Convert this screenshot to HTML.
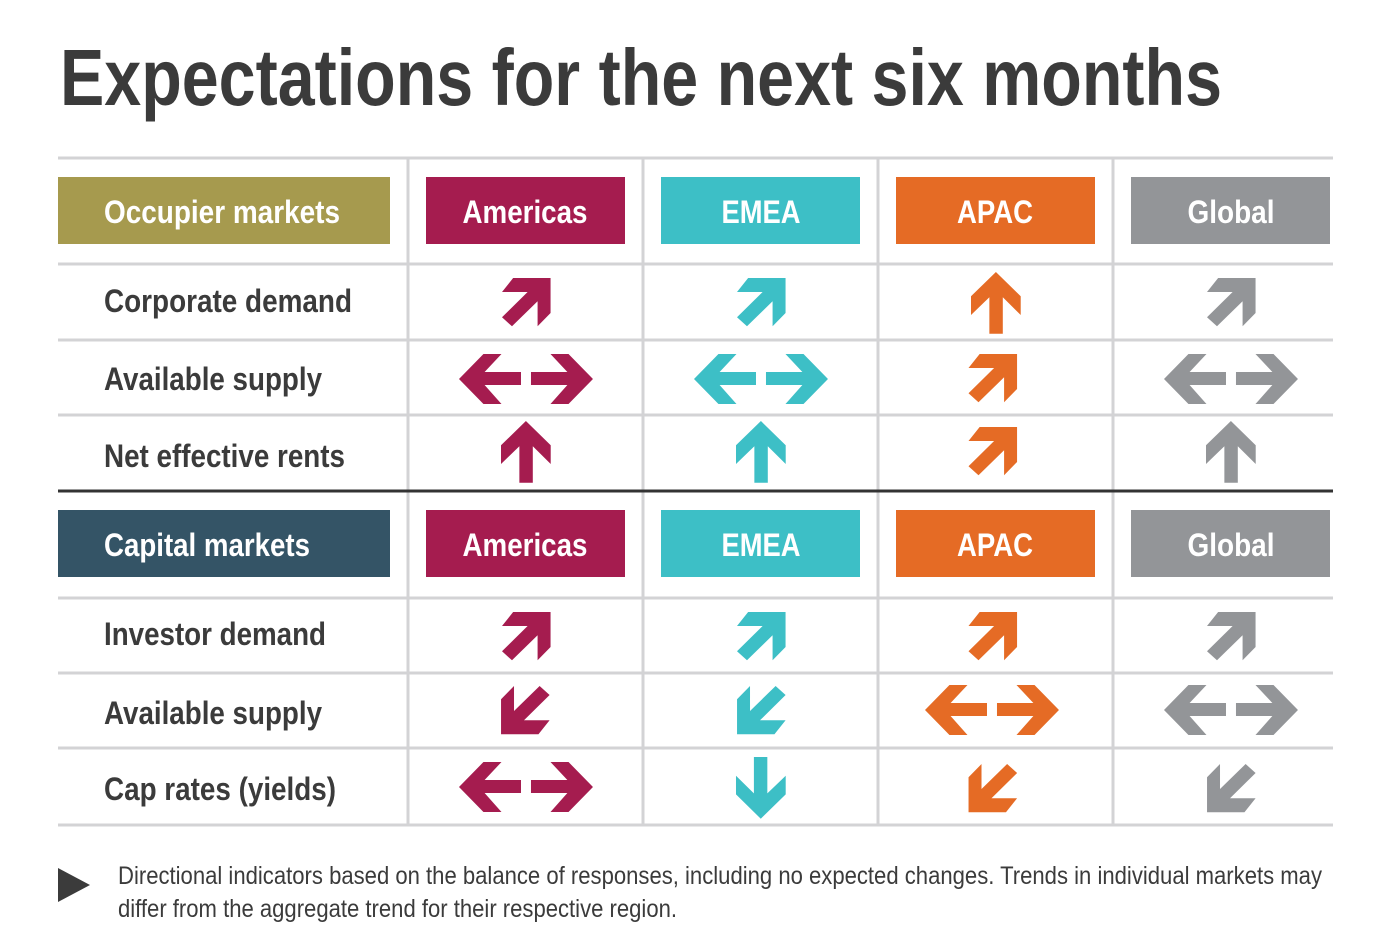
<!DOCTYPE html>
<html><head><meta charset="utf-8"><style>html,body{margin:0;padding:0;background:#fff}</style></head>
<body>
<svg width="1400" height="931" viewBox="0 0 1400 931" xmlns="http://www.w3.org/2000/svg" font-family="'Liberation Sans Narrow','Liberation Sans',sans-serif">
<defs>
<g id="ur"><polygon transform="scale(1.148,1)" points="0,14 9.7,0 42.3,0 42.3,35 31,48.3 31,23.3 8.7,48.3 0,39.3 22.3,14"/></g>
<g id="up"><polygon transform="scale(1.148,1)" points="21.7,0 43.3,24.3 43.3,43 27.7,25.3 27.7,61.7 16,61.7 16,25.3 0,43 0,24.3"/></g>
<g id="lr"><g transform="scale(1.148,1)"><polygon points="0,25 21.3,0 37,0 22.3,18 54,18 54,31 22.3,31 37,50 21.3,50"/><polygon transform="translate(116.7,0) scale(-1,1)" points="0,25 21.3,0 37,0 22.3,18 54,18 54,31 22.3,31 37,50 21.3,50"/></g></g>
</defs>
<text x="60" y="105" font-size="80" font-weight="bold" fill="#3b3b3b" textLength="1162" lengthAdjust="spacingAndGlyphs">Expectations for the next six months</text>
<g stroke="#d3d3d5" stroke-width="3">
<line x1="58" y1="158" x2="1333" y2="158"/><line x1="58" y1="264" x2="1333" y2="264"/><line x1="58" y1="340" x2="1333" y2="340"/><line x1="58" y1="415" x2="1333" y2="415"/>
<line x1="58" y1="598" x2="1333" y2="598"/><line x1="58" y1="673" x2="1333" y2="673"/><line x1="58" y1="748" x2="1333" y2="748"/><line x1="58" y1="825" x2="1333" y2="825"/>
<line x1="408" y1="158" x2="408" y2="825"/><line x1="643" y1="158" x2="643" y2="825"/><line x1="878" y1="158" x2="878" y2="825"/><line x1="1113" y1="158" x2="1113" y2="825"/>
</g>
<line x1="58" y1="491" x2="1333" y2="491" stroke="#333" stroke-width="3"/>
<g font-size="32" font-weight="bold" fill="#fff" text-anchor="middle">
<rect x="58" y="177" width="332" height="67" fill="#a69a4e"/><text x="222" y="223" textLength="236" lengthAdjust="spacingAndGlyphs">Occupier markets</text>
<rect x="426" y="177" width="199" height="67" fill="#a51c4f"/><text x="525" y="223" textLength="125" lengthAdjust="spacingAndGlyphs">Americas</text>
<rect x="661" y="177" width="199" height="67" fill="#3dbfc6"/><text x="761" y="223" textLength="79" lengthAdjust="spacingAndGlyphs">EMEA</text>
<rect x="896" y="177" width="199" height="67" fill="#e56b25"/><text x="995" y="223" textLength="76" lengthAdjust="spacingAndGlyphs">APAC</text>
<rect x="1131" y="177" width="199" height="67" fill="#939598"/><text x="1231" y="223" textLength="87" lengthAdjust="spacingAndGlyphs">Global</text>
<rect x="58" y="510" width="332" height="67" fill="#345466"/><text x="207" y="556" textLength="206" lengthAdjust="spacingAndGlyphs">Capital markets</text>
<rect x="426" y="510" width="199" height="67" fill="#a51c4f"/><text x="525" y="556" textLength="125" lengthAdjust="spacingAndGlyphs">Americas</text>
<rect x="661" y="510" width="199" height="67" fill="#3dbfc6"/><text x="761" y="556" textLength="79" lengthAdjust="spacingAndGlyphs">EMEA</text>
<rect x="896" y="510" width="199" height="67" fill="#e56b25"/><text x="995" y="556" textLength="76" lengthAdjust="spacingAndGlyphs">APAC</text>
<rect x="1131" y="510" width="199" height="67" fill="#939598"/><text x="1231" y="556" textLength="87" lengthAdjust="spacingAndGlyphs">Global</text>
</g>
<g font-size="32" font-weight="bold" fill="#3b3b3b">
<text x="104" y="312" textLength="248" lengthAdjust="spacingAndGlyphs">Corporate demand</text>
<text x="104" y="390" textLength="218" lengthAdjust="spacingAndGlyphs">Available supply</text>
<text x="104" y="467" textLength="241" lengthAdjust="spacingAndGlyphs">Net effective rents</text>
<text x="104" y="645" textLength="222" lengthAdjust="spacingAndGlyphs">Investor demand</text>
<text x="104" y="724" textLength="218" lengthAdjust="spacingAndGlyphs">Available supply</text>
<text x="104" y="800" textLength="232" lengthAdjust="spacingAndGlyphs">Cap rates (yields)</text>
</g>
<!-- row 1 -->
<use href="#ur" x="502" y="278" fill="#a51c4f"/>
<use href="#ur" x="737" y="278" fill="#3dbfc6"/>
<use href="#up" x="971" y="272" fill="#e56b25"/>
<use href="#ur" x="1207" y="278" fill="#939598"/>
<!-- row 2 -->
<use href="#lr" x="459" y="354" fill="#a51c4f"/>
<use href="#lr" x="694" y="354" fill="#3dbfc6"/>
<use href="#ur" x="968.5" y="354" fill="#e56b25"/>
<use href="#lr" x="1164" y="354" fill="#939598"/>
<!-- row 3 -->
<use href="#up" x="501" y="421" fill="#a51c4f"/>
<use href="#up" x="736" y="421" fill="#3dbfc6"/>
<use href="#ur" x="968.5" y="427" fill="#e56b25"/>
<use href="#up" x="1206" y="421" fill="#939598"/>
<!-- row 4 -->
<use href="#ur" x="502" y="612" fill="#a51c4f"/>
<use href="#ur" x="737" y="612" fill="#3dbfc6"/>
<use href="#ur" x="968.5" y="612" fill="#e56b25"/>
<use href="#ur" x="1207" y="612" fill="#939598"/>
<!-- row 5 -->
<g transform="translate(549.6,734.3) rotate(180)"><use href="#ur" fill="#a51c4f"/></g>
<g transform="translate(785.6,734.3) rotate(180)"><use href="#ur" fill="#3dbfc6"/></g>
<use href="#lr" x="925" y="685" fill="#e56b25"/>
<use href="#lr" x="1164" y="685" fill="#939598"/>
<!-- row 6 -->
<use href="#lr" x="459" y="762" fill="#a51c4f"/>
<g transform="translate(785.7,818.7) rotate(180)"><use href="#up" fill="#3dbfc6"/></g>
<g transform="translate(1017.1,812.3) rotate(180)"><use href="#ur" fill="#e56b25"/></g>
<g transform="translate(1255.6,812.3) rotate(180)"><use href="#ur" fill="#939598"/></g>
<polygon points="58,868 90,885 58,902" fill="#3b3b3b"/>
<g font-size="25" fill="#3b3b3b">
<text x="118" y="884" textLength="1204" lengthAdjust="spacingAndGlyphs">Directional indicators based on the balance of responses, including no expected changes. Trends in individual markets may</text>
<text x="118" y="917" textLength="559" lengthAdjust="spacingAndGlyphs">differ from the aggregate trend for their respective region.</text>
</g>
</svg>
</body></html>
